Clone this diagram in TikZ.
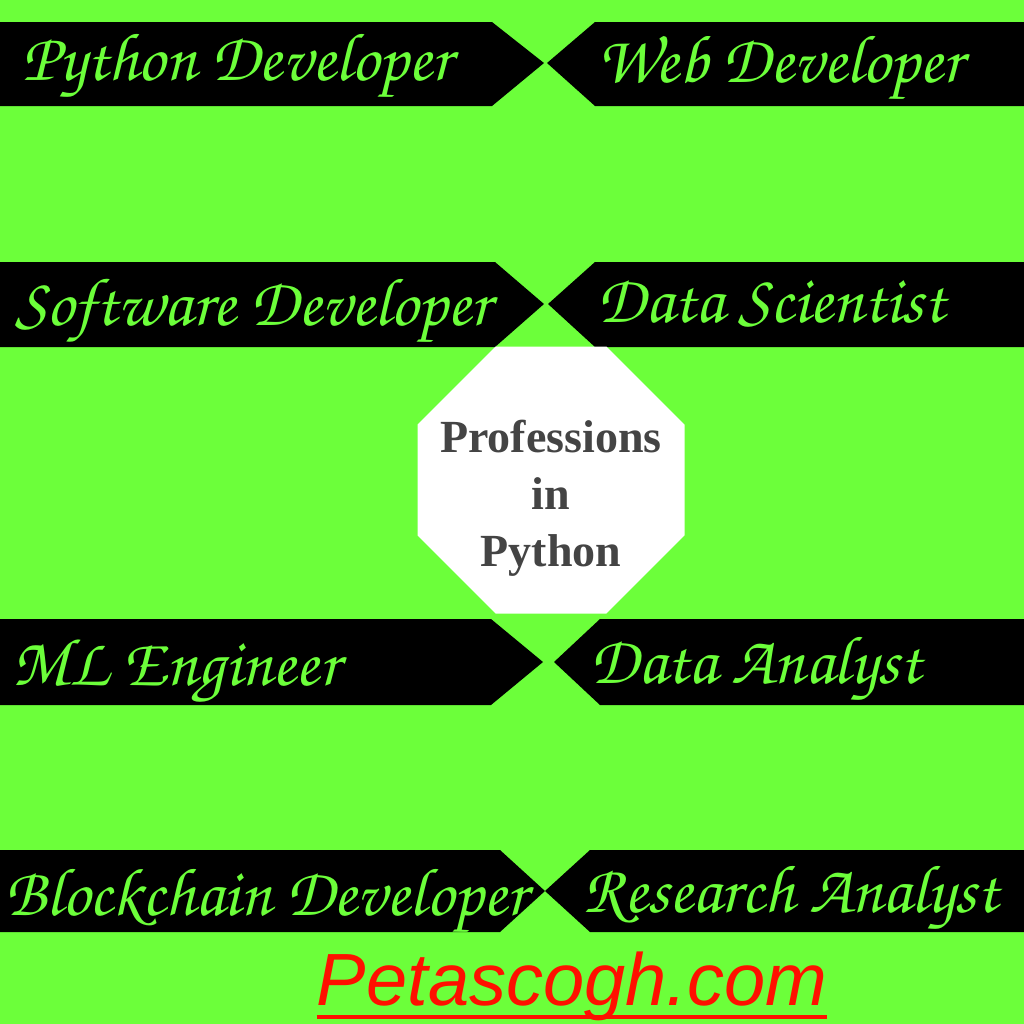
\documentclass[tikz,border=0pt]{standalone}
\usepackage{fontspec}
\setmainfont{Liberation Serif}
\newfontfamily\sitefont{Liberation Sans}
\usetikzlibrary{shapes.geometric}
\newcommand\handfont{\fontencoding{T1}\fontfamily{pzc}\fontseries{mb}\fontshape{it}\selectfont}
\definecolor{bggreen}{RGB}{108,255,58}
\definecolor{titlegrey}{RGB}{68,68,68}
\definecolor{sitered}{RGB}{255,16,0}
\begin{document}
\begin{tikzpicture}[x=0.5pt, y=-0.5pt,
  job/.style = {text=bggreen, inner sep=0, anchor=base west, font=\handfont\fontsize{34}{40}\selectfont},
  hub/.style = {regular polygon, regular polygon sides=8, minimum size=144.5pt, fill=white, inner sep=0},
  title/.style = {align=center, inner sep=0, text=titlegrey, font=\bfseries\fontsize{23}{28.5}\selectfont},
  site/.style = {inner sep=0, anchor=base, text=sitered, font=\sitefont\itshape\fontsize{37}{44}\selectfont}]
\useasboundingbox (0,0) rectangle (1024,1024);
\fill[bggreen] (0,0) rectangle (1024,1024);
% banners, left ones point right, right ones point left
\foreach \ya/\yb/\ym/\lc/\lt/\rt/\rc in {22/106/63/492/544/547/595, 262/347/304/495/544/548/595, 619/705/662/491/543/554/600, 850/932/891/500/545/545/590} {
  \fill (0,\ya) -- (\lc,\ya) -- (\lt,\ym) -- (\lc,\yb) -- (0,\yb) -- cycle;
  \fill (1024,\ya) -- (\rc,\ya) -- (\rt,\ym) -- (\rc,\yb) -- (1024,\yb) -- cycle;
}
\node[job] (pydev) at (22,80) {Python Developer};
\node[job] (webdev) at (597,82) {Web Developer};
\node[job] (swdev) at (15,325) {Software Developer};
\node[job] (datasci) at (597,322) {Data Scientist};
\node[job] (mleng) at (12,685) {ML Engineer};
\node[job] (dataan) at (590,683) {Data Analyst};
\node[job] (bcdev) at (5,915) {Blockchain Developer};
\node[job] (resan) at (583,912) {Research Analyst};
% centre
\node[hub] (hub) at (551,480) {};
\node[title] (title) at (551,498) {Professions\\in\\Python};
% footer
\node[site] (site) at (572,1005) {Petascogh.com};
\draw[sitered, line width=2pt] ([yshift=-6pt]site.base west) -- ([yshift=-6pt]site.base east);
\end{tikzpicture}
\end{document}
